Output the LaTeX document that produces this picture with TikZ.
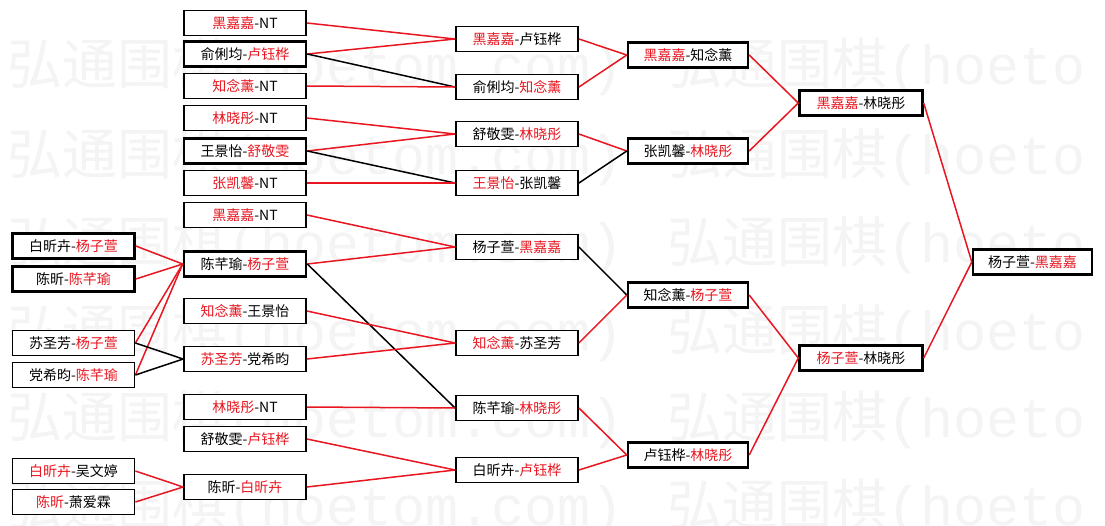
\documentclass[tikz,border=0pt]{standalone}
\usepackage{fontspec}
\setmainfont{Liberation Serif}
\newfontfamily\cjk{Noto Sans CJK SC}
\newfontfamily\wmmono{Liberation Mono}
\definecolor{rd}{RGB}{232,22,32}
\definecolor{wm}{RGB}{244,244,244}
\newcommand\Rd[1]{\textcolor{rd}{#1}}
\tikzset{
  box/.style={draw=black, line width=1.8pt, fill=white, minimum width=122pt,
    minimum height=25pt, inner sep=0pt, font=\cjk\fontsize{14}{16}\selectfont},
  boxb/.style={box, line width=2.6pt},
  boxm/.style={box, line width=2.4pt},
  rl/.style={draw=rd, line width=1.5pt},
  bl/.style={draw=black, line width=1.5pt},
  wmtext/.style={anchor=west, inner sep=0pt, text=wm, font=\cjk\fontsize{55}{60}\selectfont},
}
\begin{document}
\begin{tikzpicture}[x=1pt, y=-1pt]
\useasboundingbox (0,0) rectangle (1105,525);
\fill[white] (0,0) rectangle (1105,525);
% watermark
\begin{scope}
\clip (0,0) rectangle (1105,525);
\foreach \yy/\i in {67/1,157/2,245/3,333/4,420/5,508/6}{
  \node[wmtext] (wa\i) at (7,\yy) {弘通围棋{\wmmono(hoetom.com)}};
  \node[wmtext] (wb\i) at (667,\yy) {弘通围棋{\wmmono(hoeto}};
}
\end{scope}
% left column
\node[boxb] (L1) at (73.5,246) {白昕卉-\Rd{杨子萱}};
\node[boxb] (L2) at (73.5,279) {陈昕-\Rd{陈芊瑜}};
\node[box]  (L3) at (73.5,343) {苏圣芳-\Rd{杨子萱}};
\node[box]  (L4) at (73.5,375) {党希昀-\Rd{陈芊瑜}};
\node[box]  (L5) at (73.5,471) {\Rd{白昕卉}-吴文婷};
\node[box]  (L6) at (73.5,502) {\Rd{陈昕}-萧爱霖};
% column 2
\node[box]  (A1) at (245,23)  {\Rd{黑嘉嘉}-NT};
\node[boxb] (A2) at (245,54)  {俞俐均-\Rd{卢钰桦}};
\node[box]  (A3) at (245,86)  {\Rd{知念薰}-NT};
\node[box]  (A4) at (245,118) {\Rd{林晓彤}-NT};
\node[boxb] (A5) at (245,151) {王景怡-\Rd{舒敬雯}};
\node[box]  (A6) at (245,183) {\Rd{张凯馨}-NT};
\node[box]  (A7) at (245,215) {\Rd{黑嘉嘉}-NT};
\node[boxb] (A8) at (245,264) {陈芊瑜-\Rd{杨子萱}};
\node[box]  (A9) at (245,311) {\Rd{知念薰}-王景怡};
\node[box]  (A10) at (245,359) {\Rd{苏圣芳}-党希昀};
\node[box]  (A11) at (245,407) {\Rd{林晓彤}-NT};
\node[box]  (A12) at (245,439) {舒敬雯-\Rd{卢钰桦}};
\node[box]  (A13) at (245,487) {陈昕-\Rd{白昕卉}};
% column 3
\node[box] (B1) at (517,39)  {\Rd{黑嘉嘉}-卢钰桦};
\node[box] (B2) at (517,87)  {俞俐均-\Rd{知念薰}};
\node[box] (B3) at (517,134) {舒敬雯-\Rd{林晓彤}};
\node[box] (B4) at (517,183) {\Rd{王景怡}-张凯馨};
\node[box] (B5) at (517,247) {杨子萱-\Rd{黑嘉嘉}};
\node[box] (B6) at (517,343) {\Rd{知念薰}-苏圣芳};
\node[box] (B7) at (517,408) {陈芊瑜-\Rd{林晓彤}};
\node[box] (B8) at (517,470) {白昕卉-\Rd{卢钰桦}};
% column 4
\node[boxm, minimum width=120pt] (C1) at (688,55)  {\Rd{黑嘉嘉}-知念薰};
\node[boxm, minimum width=120pt] (C2) at (688,151) {张凯馨-\Rd{林晓彤}};
\node[boxm, minimum width=120pt] (C3) at (688,295) {知念薰-\Rd{杨子萱}};
\node[boxm, minimum width=120pt] (C4) at (688,455) {卢钰桦-\Rd{林晓彤}};
% column 5
\node[boxm, minimum width=123pt] (D1) at (861,103) {\Rd{黑嘉嘉}-林晓彤};
\node[boxm, minimum width=123pt] (D2) at (861,358) {\Rd{杨子萱}-林晓彤};
% final
\node[boxm, minimum width=119pt] (E) at (1032.5,262) {杨子萱-\Rd{黑嘉嘉}};
% connectors left -> col2
\draw[rl] (L1.east) -- (A8.west);
\draw[rl] (L2.east) -- (A8.west);
\draw[rl] (L3.east) -- (A8.west);
\draw[rl] (L4.east) -- (A8.west);
\draw[bl] (L3.east) -- (A10.west);
\draw[bl] (L4.east) -- (A10.west);
\draw[rl] (L5.east) -- (A13.west);
\draw[rl] (L6.east) -- (A13.west);
% col2 -> col3
\draw[rl] (A1.east) -- (B1.west);
\draw[rl] (A2.east) -- (B1.west);
\draw[bl] (A2.east) -- (B2.west);
\draw[rl] (A3.east) -- (B2.west);
\draw[rl] (A4.east) -- (B3.west);
\draw[rl] (A5.east) -- (B3.west);
\draw[bl] (A5.east) -- (B4.west);
\draw[rl] (A6.east) -- (B4.west);
\draw[rl] (A7.east) -- (B5.west);
\draw[rl] (A8.east) -- (B5.west);
\draw[bl] (A8.east) -- (B7.west);
\draw[rl] (A9.east) -- (B6.west);
\draw[rl] (A10.east) -- (B6.west);
\draw[rl] (A11.east) -- (B7.west);
\draw[rl] (A12.east) -- (B8.west);
\draw[rl] (A13.east) -- (B8.west);
% col3 -> col4
\draw[rl] (B1.east) -- (C1.west);
\draw[rl] (B2.east) -- (C1.west);
\draw[rl] (B3.east) -- (C2.west);
\draw[bl] (B4.east) -- (C2.west);
\draw[bl] (B5.east) -- (C3.west);
\draw[rl] (B6.east) -- (C3.west);
\draw[rl] (B7.east) -- (C4.west);
\draw[rl] (B8.east) -- (C4.west);
% col4 -> col5
\draw[rl] (C1.east) -- (D1.west);
\draw[rl] (C2.east) -- (D1.west);
\draw[rl] (C3.east) -- (D2.west);
\draw[rl] (C4.east) -- (D2.west);
% col5 -> final
\draw[rl] (D1.east) -- (E.west);
\draw[rl] (D2.east) -- (E.west);
\end{tikzpicture}
\end{document}
